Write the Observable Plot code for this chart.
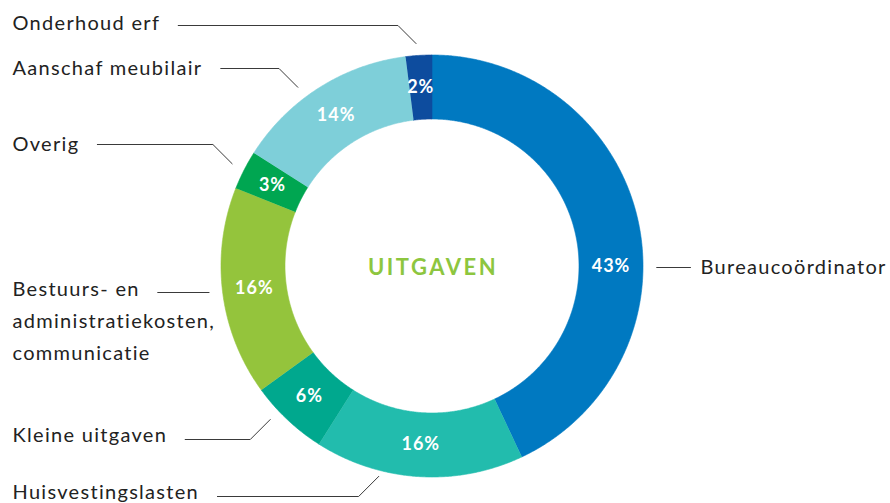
<!DOCTYPE html>
<html><head><meta charset="utf-8">
<script src="https://cdn.jsdelivr.net/npm/d3@7"></script>
<script src="https://cdn.jsdelivr.net/npm/@observablehq/plot@0.6"></script>
<style>body{margin:0;background:#fff;overflow:hidden}</style>
</head><body><div id="chart"></div>
<script>
// ---- data ----
const categories = ["Bureaucoördinator","Huisvestingslasten","Kleine uitgaven","Bestuurs- en administratiekosten, communicatie","Overig","Aanschaf meubilair","Onderhoud erf"];
const labelLines = [["Bureaucoördinator"],["Huisvestingslasten"],["Kleine uitgaven"],["Bestuurs- en","administratiekosten,","communicatie"],["Overig"],["Aanschaf meubilair"],["Onderhoud erf"]];
const shares = [43,16,6,16,3,14,2];
const pctLabels = ["43%","16%","6%","16%","3%","14%","2%"];
const colors = ["#0079c1","#22bcad","#00a88e","#94c43c","#00a651","#7ecfd9","#0d4c9e"];
const centerTitle = "UITGAVEN";

// ---- layout (annotation placement) ----
const W = 890, H = 503, CX = 431.5, CY = 265.5, R_OUT = 211, R_IN = 147;
const FONT = "Lato", FS = 20, LS = 1.3, LINE_H = 32;
const labelSide = ["right","left","left","left","left","left","left"];
const labelX = {left: 12, right: 700};
const textY = [266.6, 491.6, 435.3, 288.6, 143.6, 67.6, 22.6];
const lineY = [267, 496, 439, 292, 144, 68, 25];
const leaderStart = [null, {a:194.2, r:217}, {a:226.5, r:223}, null, {a:297.1, r:224.5}, {a:323.1, r:223.5}, {a:355.9, r:223}];
const pctAngleOverride = [90, null, null, null, null, null, null];

const pt = (a, r) => ({x: CX + r * Math.sin(a * Math.PI / 180), y: CY - r * Math.cos(a * Math.PI / 180)});

// slices
const total = d3.sum(shares);
const slices = [];
const pctData = [];
let acc = 0;
shares.forEach((v, i) => {
  const a0 = acc / total * 360, a1 = (acc + v) / total * 360;
  acc += v;
  const n = Math.max(4, Math.ceil((a1 - a0) / 0.4));
  for (let k = 0; k <= n; k++) { const p = pt(a0 + (a1 - a0) * k / n, R_OUT); slices.push({cat: categories[i], ...p}); }
  for (let k = n; k >= 0; k--) { const p = pt(a0 + (a1 - a0) * k / n, R_IN); slices.push({cat: categories[i], ...p}); }
  const am = pctAngleOverride[i] ?? (a0 + a1) / 2;
  pctData.push({text: pctLabels[i], ...pt(am, (R_OUT + R_IN) / 2)});
});

// text widths
const ctx = document.createElement("canvas").getContext("2d");
ctx.font = `${FS}px ${FONT}`;
const textWidth = t => ctx.measureText(t).width + LS * t.length;

const textData = [];
const leaders = [];
categories.forEach((c, i) => {
  const side = labelSide[i];
  labelLines[i].forEach((t, j) => textData.push({text: t, x: labelX[side], y: textY[i] + j * LINE_H}));
  const ly = lineY[i];
  let P;
  if (leaderStart[i]) P = pt(leaderStart[i].a, leaderStart[i].r);
  else { const R = 224.5; const dx = Math.sqrt(R * R - (ly - CY) ** 2); P = {x: side === "left" ? CX - dx : CX + dx, y: ly}; }
  const dir = side === "left" ? -1 : 1;
  const elbow = {x: P.x + dir * Math.abs(P.y - ly), y: ly};
  const endX = side === "left" ? labelX.left + textWidth(labelLines[i][0]) + 18 : labelX.right - 10;
  leaders.push({cat: c, x: P.x, y: P.y}, {cat: c, ...elbow}, {cat: c, x: endX, y: ly});
});

const chart = Plot.plot({
  width: W, height: H, margin: 0,
  x: {domain: [0, W], range: [0, W], axis: null},
  y: {domain: [0, H], range: [0, H], axis: null},
  color: {domain: categories, range: colors},
  style: {fontFamily: FONT, background: "#fff"},
  marks: [
    Plot.line(slices, {x: "x", y: "y", z: "cat", fill: "cat", stroke: "cat", strokeWidth: 0.6, curve: "linear"}),
    Plot.line(leaders, {x: "x", y: "y", z: "cat", stroke: "#3a3a3a", strokeWidth: 1}),
    Plot.text(pctData, {x: "x", y: "y", text: "text", fill: "white", fontSize: 18, fontWeight: "bold", lineAnchor: "middle"}),
    Plot.text(textData, {x: "x", y: "y", text: "text", fill: "#222", fontSize: FS, textAnchor: "start", lineAnchor: "middle"}),
    Plot.text([centerTitle], {x: [CX + 1], y: [CY + 1.5], text: d => d, fill: "#8dc63f", fontSize: 22, fontWeight: "bold", lineAnchor: "middle"})
  ]
});
chart.querySelectorAll("text").forEach(t => {
  const s = t.textContent;
  if (s === centerTitle) t.setAttribute("letter-spacing", "2.5");
  else if (pctLabels.includes(s)) t.setAttribute("letter-spacing", "1");
  else t.querySelectorAll("tspan").length ? t.querySelectorAll("tspan").forEach(ts => ts.setAttribute("letter-spacing", LS)) : t.setAttribute("letter-spacing", LS);
});
chart.querySelectorAll("g[aria-label='text'] text").forEach(t => {
  if (!pctLabels.includes(t.textContent) && t.textContent !== centerTitle) t.setAttribute("letter-spacing", LS);
});
document.getElementById("chart").appendChild(chart);
</script>
</body></html>
